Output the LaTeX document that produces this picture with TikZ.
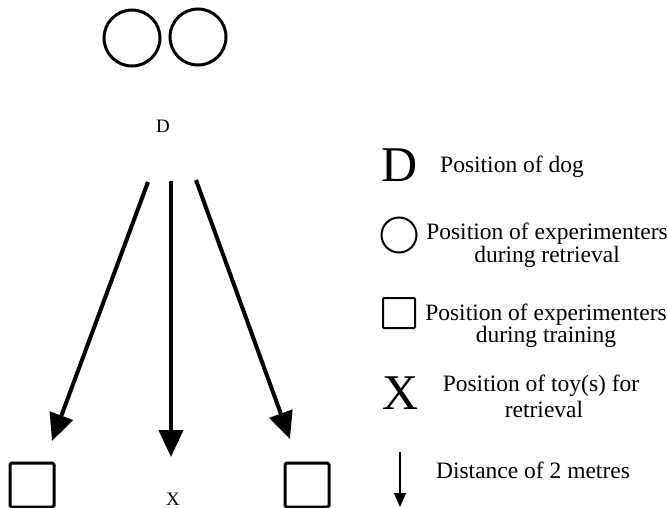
\documentclass[tikz,border=0pt]{standalone}
\usepackage{fontspec}
\setmainfont{Liberation Serif}
\usetikzlibrary{arrows.meta}
\begin{document}
\begin{tikzpicture}[x=1pt,y=-1pt,
  bigarrow/.style={line width=4pt,-{Triangle[length=27pt,width=24pt]}},
  smallarrow/.style={line width=2pt,-{Triangle[length=14pt,width=12pt]}},
  expcircle/.style={circle,draw,line width=3pt,minimum size=56pt,inner sep=0pt},
  expsquare/.style={rectangle,draw,line width=3pt,rounded corners=1.5pt,minimum size=44pt,inner sep=0pt},
  legcircle/.style={circle,draw,line width=2pt,minimum size=35pt,inner sep=0pt},
  legsquare/.style={rectangle,draw,line width=2pt,rounded corners=1pt,minimum width=32pt,minimum height=30pt,inner sep=0pt},
  smalllabel/.style={font=\fontsize{19}{19}\selectfont,inner sep=0pt},
  bigsym/.style={font=\fontsize{50}{50}\selectfont,inner sep=0pt,anchor=base},
  legtext/.style={font=\fontsize{23.5}{22}\selectfont,inner sep=0pt,anchor=base}
]
\useasboundingbox (0,0) rectangle (667,508);

% experimenters during retrieval
\node[expcircle] (c1) at (132,38) {};
\node[expcircle] (c2) at (198,37) {};

% dog
\node[smalllabel] (dog) at (163,126) {D};

% arrow start and end points
\coordinate (s1) at (148,182);
\coordinate (s2) at (171,181);
\coordinate (s3) at (196,180);
\coordinate (e1) at (52,441);
\coordinate (e2) at (171,457);
\coordinate (e3) at (290,439);
\draw[bigarrow] (s1) -- (e1);
\draw[bigarrow] (s2) -- (e2);
\draw[bigarrow] (s3) -- (e3);

% experimenters during training
\node[expsquare] (q1) at (32,485) {};
\node[expsquare] (q2) at (307,485) {};

% toy
\node[smalllabel,anchor=base] (toy) at (173,505) {X};

% legend
\node[bigsym] (lD) at (400,182) {D};
\node[legtext,anchor=base west] (tD) at (440,173) {Position of dog};

\node[legcircle] (lC) at (399,235) {};
\node[legtext] (tC1) at (547,240) {Position of experimenters};
\node[legtext] (tC2) at (547,262) {during retrieval};

\node[legsquare] (lS) at (399,313) {};
\node[legtext] (tS1) at (546,320) {Position of experimenters};
\node[legtext] (tS2) at (546,342) {during training};

\node[bigsym] (lX) at (401,409) {X};
\node[legtext] (tX1) at (541,391) {Position of toy(s) for};
\node[legtext] (tX2) at (544,417) {retrieval};

\coordinate (la1) at (400,452);
\coordinate (la2) at (400,507);
\draw[smallarrow] (la1) -- (la2);
\node[legtext] (tA) at (533,478) {Distance of 2 metres};
\end{tikzpicture}
\end{document}
